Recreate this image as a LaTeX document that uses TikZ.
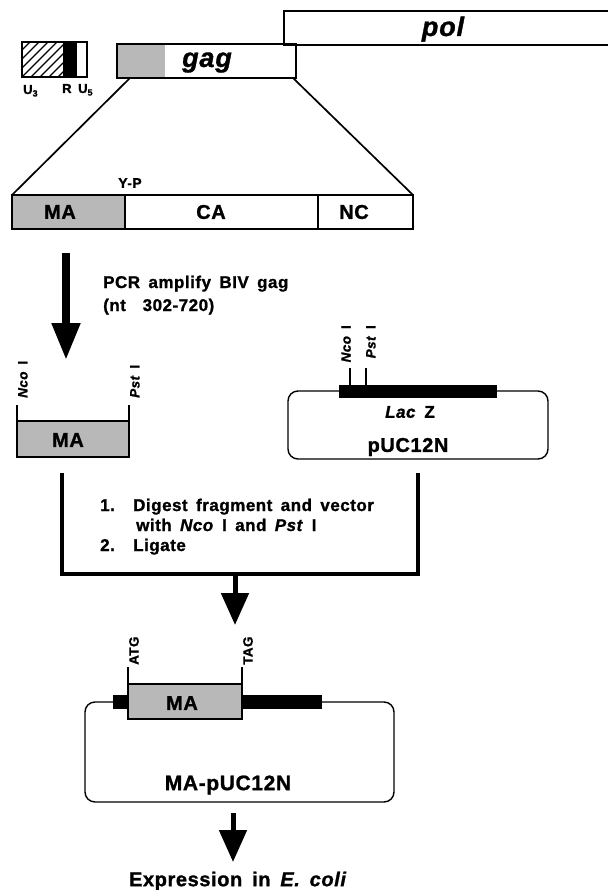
\documentclass[tikz,border=0pt]{standalone}
\usepackage{fontspec}
\setmainfont{Liberation Sans}[LetterSpace=3,WordSpace=1.6,
  BoldFeatures={FakeBold=1.2},BoldItalicFeatures={FakeBold=1.2}]
\usetikzlibrary{arrows.meta}
\definecolor{stip}{gray}{0.72}
\newcommand{\fs}[1]{\fontsize{#1}{#1}\selectfont}
\newcommand{\sbs}[1]{\raisebox{-2.5pt}{\fs{9}#1}}
\begin{document}
\begin{tikzpicture}[x=1pt,y=-1pt,
  txt/.style={inner sep=0pt,font=\bfseries\fs{17}},
  line/.style={txt,anchor=base west},
  big/.style={inner sep=0pt,font=\bfseries\fs{20}},
  huge/.style={inner sep=0pt,font=\bfseries\itshape\fs{27},anchor=base},
  small/.style={inner sep=0pt,font=\bfseries\fs{13}},
  vlab/.style={inner sep=0pt,font=\bfseries\fs{13.5},rotate=90},
  box/.style={line width=1.7pt},
  thin/.style={line width=1.4pt},
  fat/.style={line width=4.5pt},
  bigarrow/.style={line width=8pt,-{Triangle[length=37pt,width=27pt]}},
  midarrow/.style={line width=5pt,-{Triangle[length=32pt,width=27pt]}}]
\useasboundingbox (0,0) rectangle (607,890);

% LTR
\begin{scope}
\clip (22,42) rectangle (63,77);
\foreach \i in {-36,-27,...,45} \draw[line width=1.3pt] (22+\i,77) -- ++(38,-38);
\end{scope}
\fill (63,42) rectangle (77,77);
\draw[box] (22,42) rectangle (87,77);
\node[small,anchor=base west] (u3) at (23,94) {U\sbs{3}};
\node[small,anchor=base west] (r) at (62,93) {R};
\node[small,anchor=base west] (u5) at (78,93) {U\sbs{5}};

% pol
\draw[box] (612,45) -- (284,45) -- (284,11) -- (612,11);
\node[huge] (pol) at (443,36) {pol};

% gag
\fill[stip] (117,44) rectangle (165,78);
\draw[box] (117,44) rectangle (296,78);
\node[huge] (gag) at (207,67) {gag};

% trapezoid
\draw[box] (130,78) -- (12,195);
\draw[box] (293,78) -- (413,195);

% gag polyprotein
\fill[stip] (12,195) rectangle (125,229);
\draw[box] (12,195) rectangle (413,229);
\draw[box] (125,195) -- (125,229);
\draw[box] (318,195) -- (318,229);
\node[big] (ma1) at (60,212) {MA};
\node[big] (ca) at (211,212) {CA};
\node[big] (nc) at (354,212) {NC};
\node[txt,font=\bfseries\fs{14}] (yp) at (130,183) {Y-P};

% arrow 1
\coordinate (a1s) at (66,253);
\coordinate (a1e) at (66,360);
\draw[bigarrow] (a1s) -- (a1e);
\node[line] (pcr1) at (103,288) {PCR amplify BIV gag};
\node[line] (pcr2) at (103,311) {(nt\ \ 302-720)};

% fragment
\fill[stip] (17,421) rectangle (129,457);
\draw[box] (17,405) -- (17,457) -- (129,457) -- (129,405);
\draw[box] (17,421) -- (129,421);
\node[big] (ma2) at (68,440) {MA};
\node[vlab,anchor=north west] (nco1) at (18,398) {\textit{Nco} I};
\node[vlab,anchor=north west] (pst1) at (130,398) {\textit{Pst} I};

% pUC12N
\draw[thin,rounded corners=10pt] (288,391) rectangle (548,459);
\fill (339,385) rectangle (497,398);
\draw[thin] (350,368) -- (350,385);
\draw[thin] (366,368) -- (366,385);
\node[vlab,anchor=south east] (nco2) at (351,325) {\textit{Nco} I};
\node[vlab,anchor=north east] (pst2) at (366,325) {\textit{Pst} I};
\node[txt] (lacz) at (410,412) {\textit{Lac} Z};
\node[big] (puc) at (408,447) {pUC12N};

% bracket
\draw[fat] (62,473) -- (62,574) -- (418,574) -- (418,473);
\node[line] (n1) at (100,511) {1.};
\node[line] (s1) at (133,511) {Digest fragment and vector};
\node[line] (s1b) at (136,531) {with \textit{Nco} I and \textit{Pst} I};
\node[line] (n2) at (100,551) {2.};
\node[line] (s2) at (133,551) {Ligate};

% arrow 2
\coordinate (a2s) at (235,572);
\coordinate (a2e) at (235,625);
\draw[midarrow] (a2s) -- (a2e);

% MA-pUC12N
\draw[thin,rounded corners=10pt] (85,702) rectangle (394,802);
\fill (113,695) rectangle (128,709);
\fill (242,695) rectangle (322,709);
\fill[stip] (128,684) rectangle (242,719);
\draw[box] (128,684) rectangle (242,719);
\draw[thin] (128,667) -- (128,684);
\draw[thin] (242,667) -- (242,684);
\node[vlab,anchor=north west] (atg) at (129,665) {ATG};
\node[vlab,anchor=north west] (tag) at (243,665) {TAG};
\node[big] (ma3) at (182,703) {MA};
\node[big,font=\bfseries\fs{21}] (mapuc) at (228,785) {MA-pUC12N};

% arrow 3
\coordinate (a3s) at (233,813);
\coordinate (a3e) at (233,862);
\draw[midarrow] (a3s) -- (a3e);
\node[big] (expr) at (238,881) {Expression in \textit{E. coli}};
\end{tikzpicture}
\end{document}
